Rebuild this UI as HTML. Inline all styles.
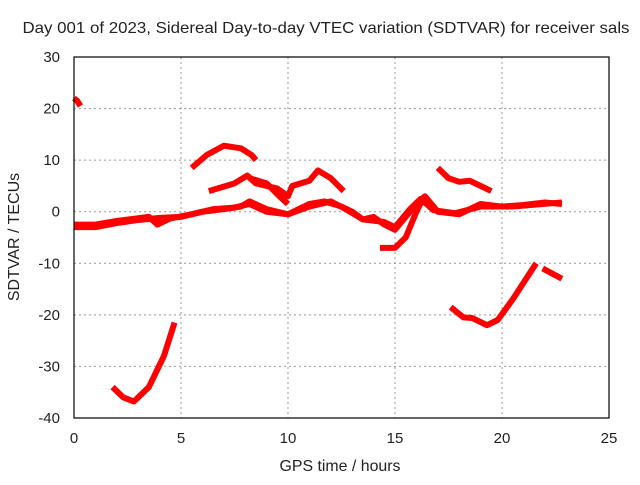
<!DOCTYPE html>
<html><head><meta charset="utf-8"><style>
body{margin:0;background:#fff}
svg text{font-family:"Liberation Sans",sans-serif;font-size:15px;fill:#222}
</style></head><body>
<svg id="c" width="640" height="480" xmlns="http://www.w3.org/2000/svg">
<text x="326" y="33" text-anchor="middle" textLength="607" lengthAdjust="spacingAndGlyphs" style="font-size:16px">Day 001 of 2023, Sidereal Day-to-day VTEC variation (SDTVAR) for receiver sals</text>
<text x="340" y="471" text-anchor="middle" textLength="121" lengthAdjust="spacingAndGlyphs" style="font-size:16px">GPS time / hours</text>
<text transform="translate(19,237) rotate(-90)" text-anchor="middle" style="font-size:16px">SDTVAR / TECUs</text>
<g id="grid"></g><g id="marks"></g>
<rect x="74" y="57" width="535" height="361" fill="none" stroke="#000" stroke-width="1.2"/>
</svg>
<script>
const xTicks=[0,5,10,15,20,25];
const yTicks=[30,20,10,0,-10,-20,-30,-40];
const seg1=[[0,22],[0.15,21.5],[0.3,20.5]];
const seg2=[[0,-3],[1,-3],[2,-2.2],[3,-1.6],[4,-1.2],[5,-1],[6,0],[7,0.5],[7.8,1],[8.2,2],[9,0.5],[10,-0.5],[10.5,0.5],[11,1.5],[11.7,2],[12.5,1],[13,0],[13.5,-1.5],[14,-1],[14.5,-2.5],[15,-3.5],[15.5,-1],[16,1.5],[16.4,3],[17,0],[18,-0.5],[18.5,0.5],[19,1.5],[20,1],[21,1.3],[22,1.8],[22.8,1.5]];
const seg2b=[[0,-2.5],[1,-2.5],[2,-1.8],[3.5,-1],[3.9,-2.5],[4.5,-1.3],[5.5,-0.5],[6.5,0.5],[7.5,0.8],[8.2,1.5],[9,0],[10,-0.5],[11,1],[12,2],[12.7,0.5],[13.5,-1.5],[14.5,-2],[15,-3],[15.7,0.5],[16.2,2.5],[16.8,0.3],[17.8,-0.3],[19,1],[20.5,1],[22.8,1.8]];
const seg3=[[5.5,8.5],[6.2,11],[7,12.8],[7.8,12.3],[8.3,11],[8.5,10]];
const seg4=[[6.3,4],[7.5,5.5],[8.1,7],[8.5,5.5],[9.5,4.5],[10,3],[10.2,5],[11,6],[11.4,8],[12,6.5],[12.6,4]];
const seg4b=[[8.2,6.5],[9,5.5],[9.6,3],[10,1.5]];
const seg5=[[14.3,-7],[15,-7],[15.5,-5],[16,0],[16.3,2.5]];
const seg6=[[1.8,-34],[2.3,-36],[2.8,-36.8],[3.5,-34],[4.2,-28],[4.7,-21.5]];
const seg7=[[17.6,-18.5],[18.2,-20.5],[18.6,-20.6],[19.3,-22],[19.8,-21],[20.5,-17],[21.6,-10]];
const seg8=[[21.9,-11],[22.8,-13]];
const seg9=[[17,8.5],[17.5,6.5],[18,5.8],[18.5,6],[19,5],[19.5,4]];
const series=[seg1,seg2,seg2b,seg3,seg4,seg4b,seg5,seg6,seg7,seg8,seg9];
const X=v=>74+v*535/25, Y=v=>57+(30-v)*361/70;
const NS='http://www.w3.org/2000/svg';
const svg=document.getElementById('c'),grid=document.getElementById('grid'),marks=document.getElementById('marks');
function mk(t,a,p){const e=document.createElementNS(NS,t);for(const k in a)e.setAttribute(k,a[k]);p.appendChild(e);return e;}
xTicks.forEach(t=>{
 if(t>0&&t<25){const l=mk('line',{x1:X(t),x2:X(t),y1:57,y2:418,stroke:'#999','stroke-dasharray':'2,3'},grid);
 
 }
 const tx=mk('text',{x:X(t),y:443,'text-anchor':'middle'},svg);tx.textContent=t;
 
 
});
yTicks.forEach(t=>{
 if(t<30&&t>-40){const l=mk('line',{x1:74,x2:609,y1:Y(t),y2:Y(t),stroke:'#999','stroke-dasharray':'2,3'},grid);
 
 }
 const tx=mk('text',{x:60,y:Y(t)+5,'text-anchor':'end'},svg);tx.textContent=t;
 
 
});
series.forEach(s=>{
 const p=mk('polyline',{points:s.map(d=>X(d[0])+','+Y(d[1])).join(' '),fill:'none',stroke:'#f00','stroke-width':6,'stroke-linejoin':'round'},marks);
 
 
});
</script>
</body></html>
